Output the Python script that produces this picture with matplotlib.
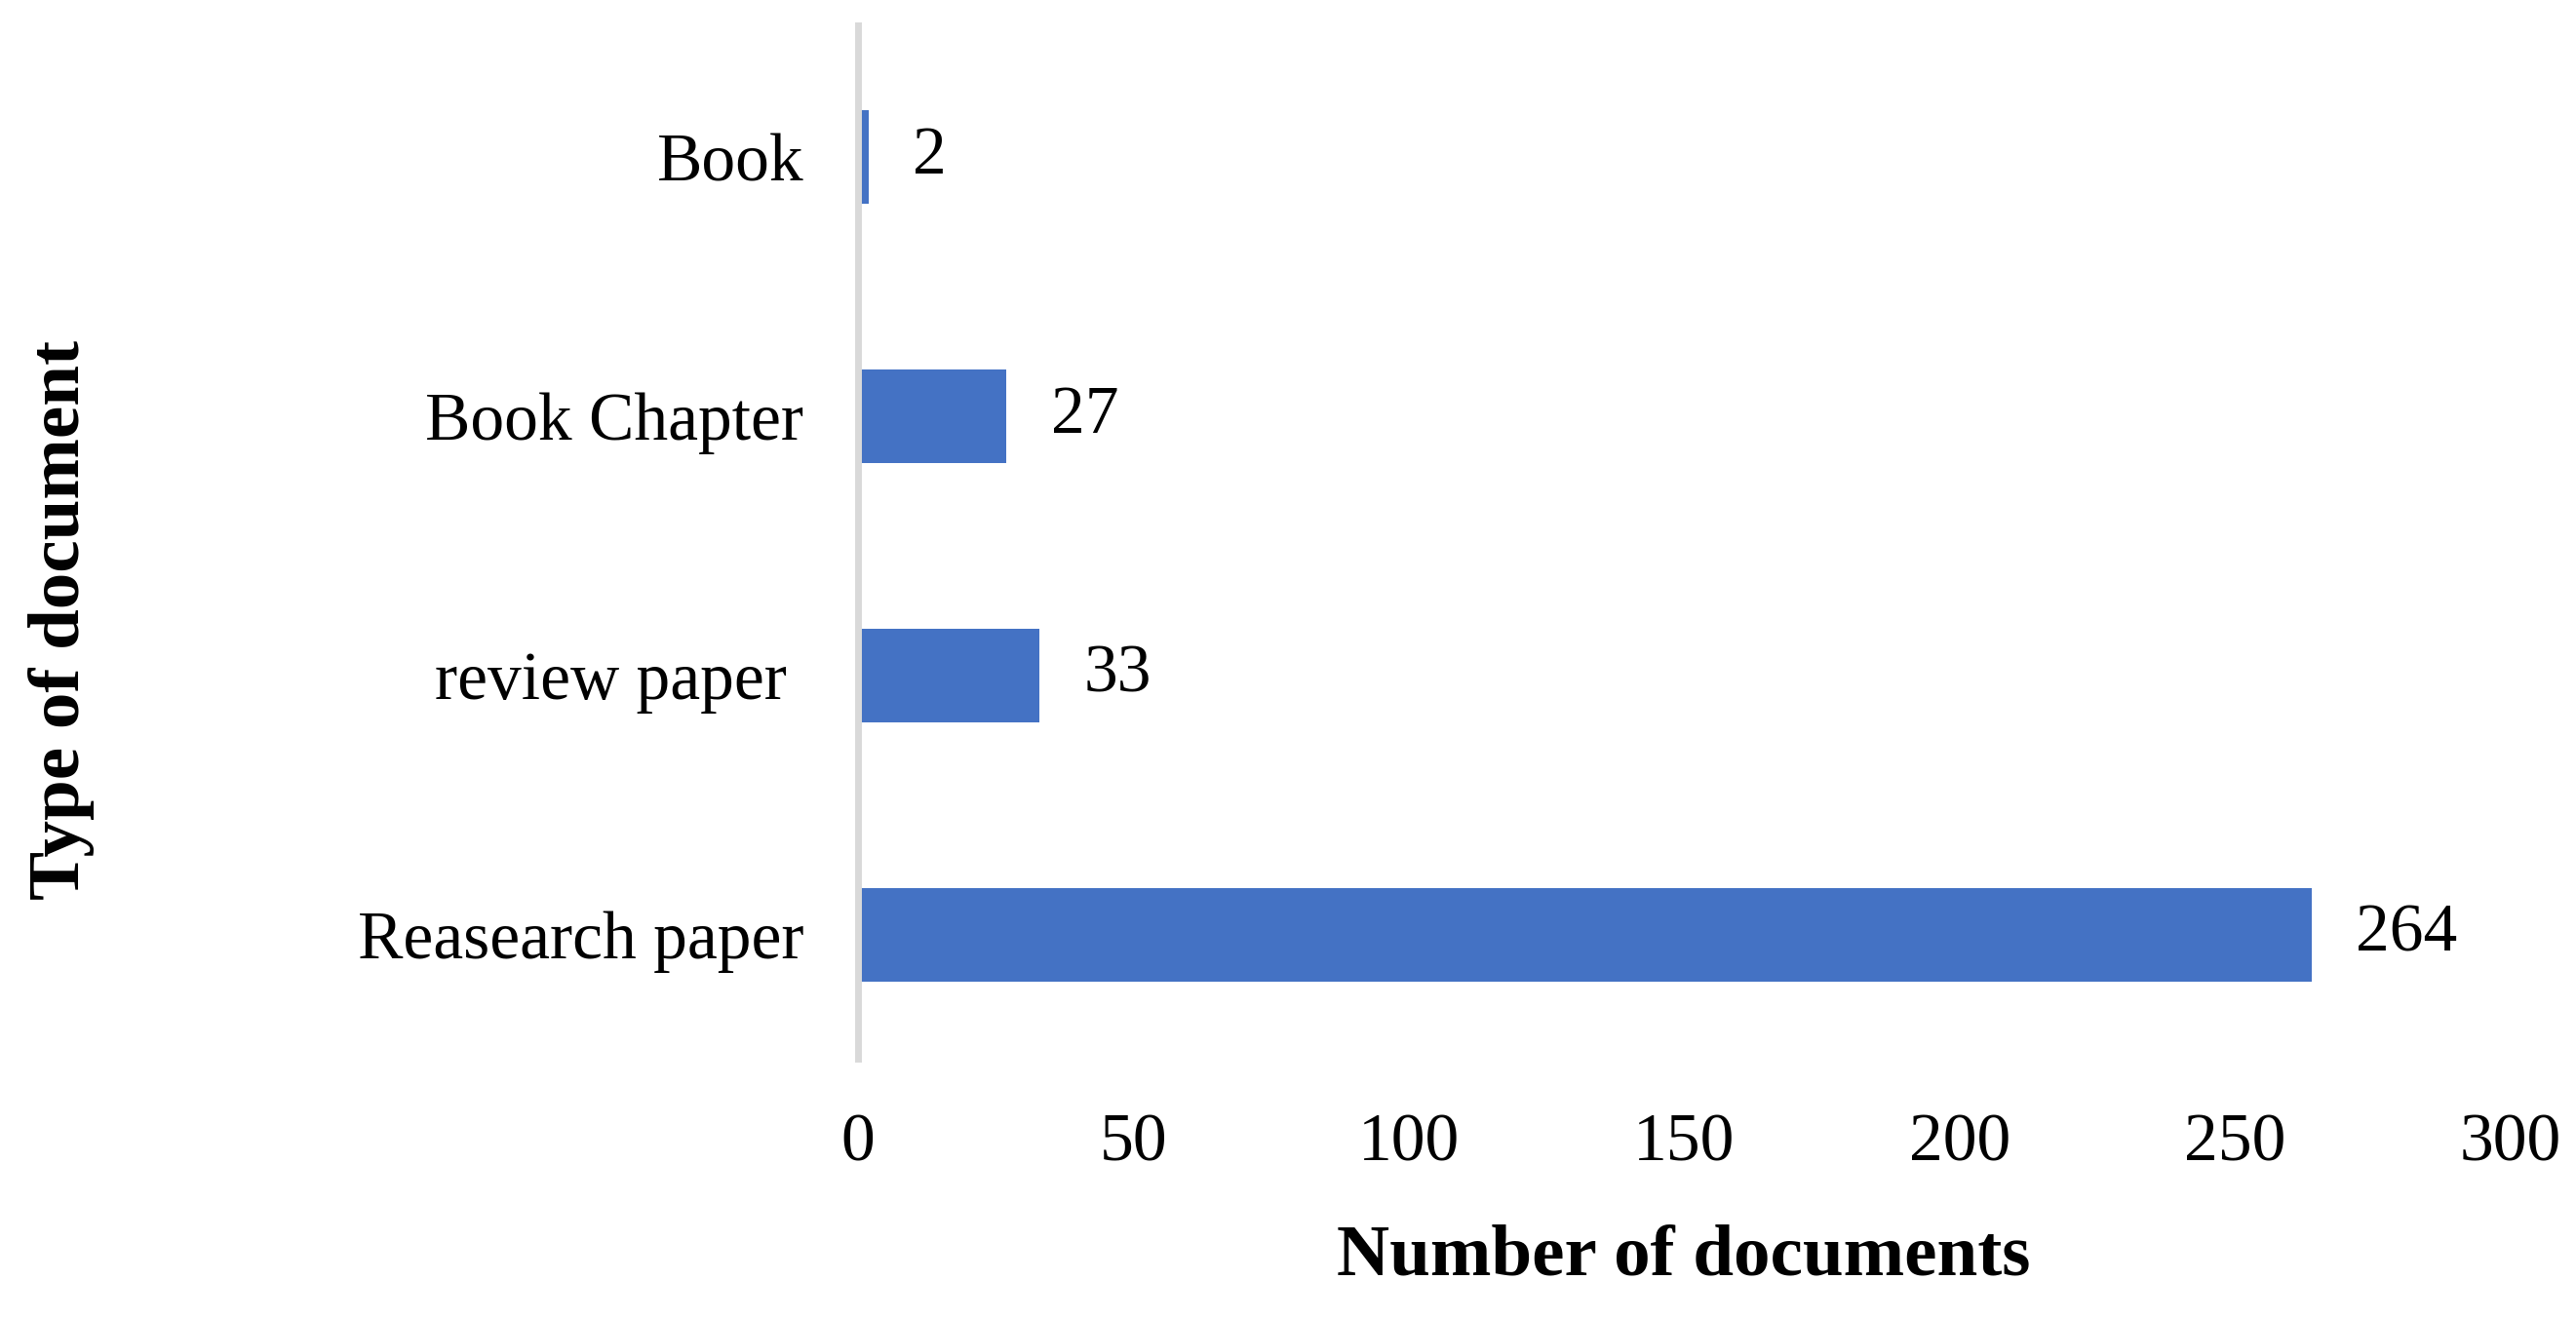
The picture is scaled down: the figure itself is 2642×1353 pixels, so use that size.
import matplotlib.pyplot as plt

categories = ["Reasearch paper", "review paper ", "Book Chapter", "Book"]
counts = [264, 33, 27, 2]
xticks = [0, 50, 100, 150, 200, 250, 300]

plt.rcParams["font.family"] = ["Liberation Serif", "DejaVu Serif"]

fig = plt.figure(figsize=(13.21, 6.765), dpi=200)
ax = fig.add_axes([0.333, 0.197, 0.6415, 0.784])

bars = ax.barh(categories, counts, height=0.36, color="#4472C4")
for b, v in zip(bars, counts):
    ax.text(b.get_width() + 8, b.get_y() + b.get_height() / 2, str(v),
            va="center", ha="left", fontsize=25)

ax.set_xlim(0, 300)
ax.set_ylim(-0.48, 3.51)
ax.set_xticks(xticks)
ax.tick_params(axis="both", length=0, labelsize=25)
ax.tick_params(axis="y", pad=20)
ax.tick_params(axis="x", pad=20)
for s in ["top", "right", "bottom"]:
    ax.spines[s].set_visible(False)
ax.spines["left"].set_color("#D9D9D9")
ax.spines["left"].set_linewidth(2.5)

ax.set_xlabel("Number of documents", fontsize=27, fontweight="bold", labelpad=18)
fig.text(0.024, 0.53, "Type of document", rotation=90, fontsize=27,
         fontweight="bold", va="center", ha="center")

fig.savefig("out.png", dpi=200)
